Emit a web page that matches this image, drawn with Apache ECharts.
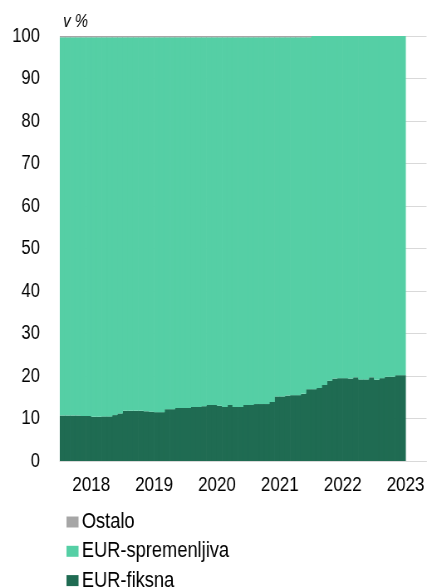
<!DOCTYPE html>
<html>
<head>
<meta charset="utf-8">
<script src="https://cdn.jsdelivr.net/npm/echarts@6/dist/echarts.min.js"></script>
<style>
  html, body { margin: 0; padding: 0; background: #fff; overflow: hidden; }
  /* izvirnik je vodoravno stisnjen (ozka pisava), zato rišemo širše in skrčimo */
  #chart { width: 514px; height: 588px; transform: scaleX(0.8307); transform-origin: 0 0; }
</style>
</head>
<body>
<div id="chart"></div>
<script>
// meseci od julija 2017 do aprila 2023 (podatki do decembra 2022)
const months = [];
for (let y = 2017, m = 7; months.length < 70; m++) {
  if (m > 12) { m = 1; y++; }
  months.push(y + "-" + String(m).padStart(2, "0"));
}

const eurFiksna = [
  10.7, 10.7, 10.7, 10.7, 10.6, 10.6, 10.4, 10.4, 10.5, 10.5, 10.8, 11.2,
  11.8, 11.8, 11.8, 11.8, 11.7, 11.6, 11.5, 11.5, 12.2, 12.2, 12.5, 12.5,
  12.5, 12.7, 12.7, 12.9, 13.2, 13.2, 13.0, 12.7, 13.2, 12.7, 12.7, 13.2,
  13.2, 13.4, 13.4, 13.4, 13.9, 15.2, 15.2, 15.4, 15.5, 15.5, 15.8, 16.9,
  16.9, 17.2, 17.9, 18.9, 19.4, 19.5, 19.5, 19.4, 19.7, 19.2, 19.2, 19.7,
  19.1, 19.5, 19.8, 19.8, 20.2, 20.2
];
const eurSpremenljiva = [
  89.0, 89.0, 89.0, 89.0, 89.1, 89.1, 89.3, 89.3, 89.2, 89.2, 88.9, 88.5,
  87.9, 87.9, 87.9, 87.9, 88.0, 88.1, 88.2, 88.2, 87.5, 87.5, 87.2, 87.2,
  87.2, 87.0, 87.0, 86.8, 86.5, 86.5, 86.7, 87.0, 86.5, 87.0, 87.0, 86.5,
  86.5, 86.3, 86.3, 86.3, 85.8, 84.5, 84.5, 84.3, 84.2, 84.2, 83.9, 82.8,
  83.1, 82.8, 82.1, 81.1, 80.6, 80.5, 80.5, 80.6, 80.3, 80.8, 80.8, 80.3,
  80.9, 80.5, 80.2, 80.2, 79.8, 79.8
];
const ostalo = [
  0.3, 0.3, 0.3, 0.3, 0.3, 0.3, 0.3, 0.3, 0.3, 0.3, 0.3, 0.3,
  0.3, 0.3, 0.3, 0.3, 0.3, 0.3, 0.3, 0.3, 0.3, 0.3, 0.3, 0.3,
  0.3, 0.3, 0.3, 0.3, 0.3, 0.3, 0.3, 0.3, 0.3, 0.3, 0.3, 0.3,
  0.3, 0.3, 0.3, 0.3, 0.3, 0.3, 0.3, 0.3, 0.3, 0.3, 0.3, 0.3,
  0, 0, 0, 0, 0, 0, 0, 0, 0, 0, 0, 0,
  0, 0, 0, 0, 0, 0
];
const yearLabels = ["2018", "2019", "2020", "2021", "2022", "2023"];

const FONT = "'Liberation Sans', Arial, sans-serif";
const colors = { fiksna: "#1f6b52", spremenljiva: "#55cfa5", ostalo: "#a6a6a6" };

function barSeries(name, data, color) {
  return {
    name: name,
    type: "bar",
    stack: "total",
    // malo širši od pasu, da se stolpci prekrivajo in ni svetlih špranj
    barWidth: 7,
    data: data,
    itemStyle: { color: color },
    emphasis: { disabled: true },
  };
}

const chart = echarts.init(document.getElementById("chart"));
chart.setOption({
  animation: false,
  title: {
    text: "v %",
    left: 76,
    top: 13,
    padding: 0,
    textStyle: { fontFamily: FONT, fontSize: 18, fontWeight: "normal", fontStyle: "italic", color: "#000" },
  },
  grid: { left: 72, right: 0, top: 36, bottom: 127 },
  legend: {
    orient: "vertical",
    left: 80,
    top: 511,
    height: 120,
    padding: 0,
    itemWidth: 14.5,
    itemHeight: 11,
    itemGap: 7.3,
    icon: "rect",
    data: ["Ostalo", "EUR-spremenljiva", "EUR-fiksna"],
    textStyle: { fontFamily: FONT, fontSize: 22, lineHeight: 22, color: "#000", padding: [0, 0, 0, -1] },
  },
  xAxis: {
    type: "category",
    data: months,
    boundaryGap: true,
    axisLine: { show: true, lineStyle: { color: "#d9d9d9" } },
    axisTick: { show: false },
    splitLine: { show: false },
    axisLabel: {
      interval: (i, v) => v.endsWith("-01"),
      formatter: v => yearLabels[yearLabels.indexOf(v.slice(0, 4))],
      fontFamily: FONT,
      fontSize: 20.5,
      color: "#000",
      margin: 14,
      padding: [0, 6.3, 0, 0],
    },
  },
  yAxis: {
    type: "value",
    min: 0,
    max: 100,
    interval: 10,
    axisLine: { show: false },
    axisTick: { show: false },
    splitLine: { lineStyle: { color: "#d9d9d9", width: 1 } },
    axisLabel: { fontFamily: FONT, fontSize: 20, color: "#000", margin: 24 },
  },
  series: [
    barSeries("EUR-fiksna", eurFiksna, colors.fiksna),
    barSeries("EUR-spremenljiva", eurSpremenljiva, colors.spremenljiva),
    barSeries("Ostalo", ostalo, colors.ostalo),
  ],
});
</script>
</body>
</html>
